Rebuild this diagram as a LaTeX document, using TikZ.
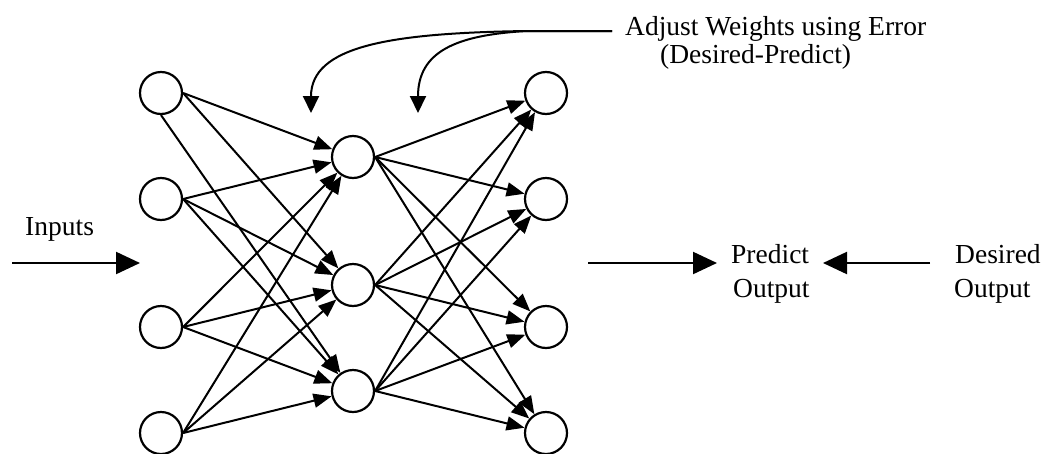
\documentclass[tikz,border=0pt]{standalone}
\usepackage{fontspec}
\setmainfont{Liberation Serif}
\usetikzlibrary{arrows.meta}
\begin{document}
\begin{tikzpicture}[x=1pt,y=-1pt,
  neuron/.style={circle,draw,line width=2.2pt,minimum size=42pt,inner sep=0pt},
  link/.style={line width=2pt,-{Triangle[length=18pt,width=14pt]}},
  bigarrow/.style={line width=2.2pt,-{Triangle[length=24pt,width=22pt]}},
  feedback/.style={line width=2pt,-{Triangle[length=17pt,width=16pt]}},
  txt/.style={inner sep=0pt,anchor=base west,font=\fontsize{27.5}{33}\selectfont}]
\useasboundingbox (0,0) rectangle (1044,453);
\clip (0,0) rectangle (1044,453);

% input layer
\node[neuron] (i1) at (161,93) {};
\node[neuron] (i2) at (161,199) {};
\node[neuron] (i3) at (161,327) {};
\node[neuron] (i4) at (161,433) {};
% hidden layer
\node[neuron] (h1) at (353,157) {};
\node[neuron] (h2) at (353,285) {};
\node[neuron] (h3) at (353,391) {};
% output layer
\node[neuron] (o1) at (546,93) {};
\node[neuron] (o2) at (546,199) {};
\node[neuron] (o3) at (546,327) {};
\node[neuron] (o4) at (546,433) {};

% input -> hidden weights
\draw[link] (i1.east) -- (h1);
\draw[link] (i1.east) -- (h2);
\draw[link] (i1.south) -- (h3);
\foreach \i in {i2,i3,i4}
  \foreach \h in {h1,h2,h3}
    \draw[link] (\i.east) -- (\h);

% hidden -> output weights
\foreach \h in {h1,h2,h3}
  \foreach \o in {o1,o2,o3,o4}
    \draw[link] (\h.east) -- (\o);

% labels
\node[txt] (inputs) at (25,235) {Inputs};
\node[txt] (pred1) at (731,263) {Predict};
\node[txt] (pred2) at (733,297) {Output};
\node[txt] (des1) at (955,263) {Desired};
\node[txt] (des2) at (954,297) {Output};
\node[txt] (adj1) at (625,35) {Adjust Weights using Error};
\node[txt] (adj2) at (660,63) {(Desired-Predict)};

% horizontal flow arrows
\coordinate (ins) at (12,263);
\coordinate (ine) at (140,263);
\coordinate (outs) at (588,263);
\coordinate (oute) at (717,263);
\coordinate (dess) at (930,263);
\coordinate (dese) at (823,263);
\draw[bigarrow] (ins) -- (ine);
\draw[bigarrow] (outs) -- (oute);
\draw[bigarrow] (dess) -- (dese);

% error feedback to the weights
\coordinate (fb) at (612,31);
\coordinate (br) at (527,31);
\coordinate (t1) at (311,113);
\coordinate (t2) at (418,113);
\draw[feedback] (fb) -- (br) .. controls (390,33) and (311,46) .. (t1);
\draw[feedback] (fb) -- (br) .. controls (455,35) and (418,52) .. (t2);
\end{tikzpicture}
\end{document}
